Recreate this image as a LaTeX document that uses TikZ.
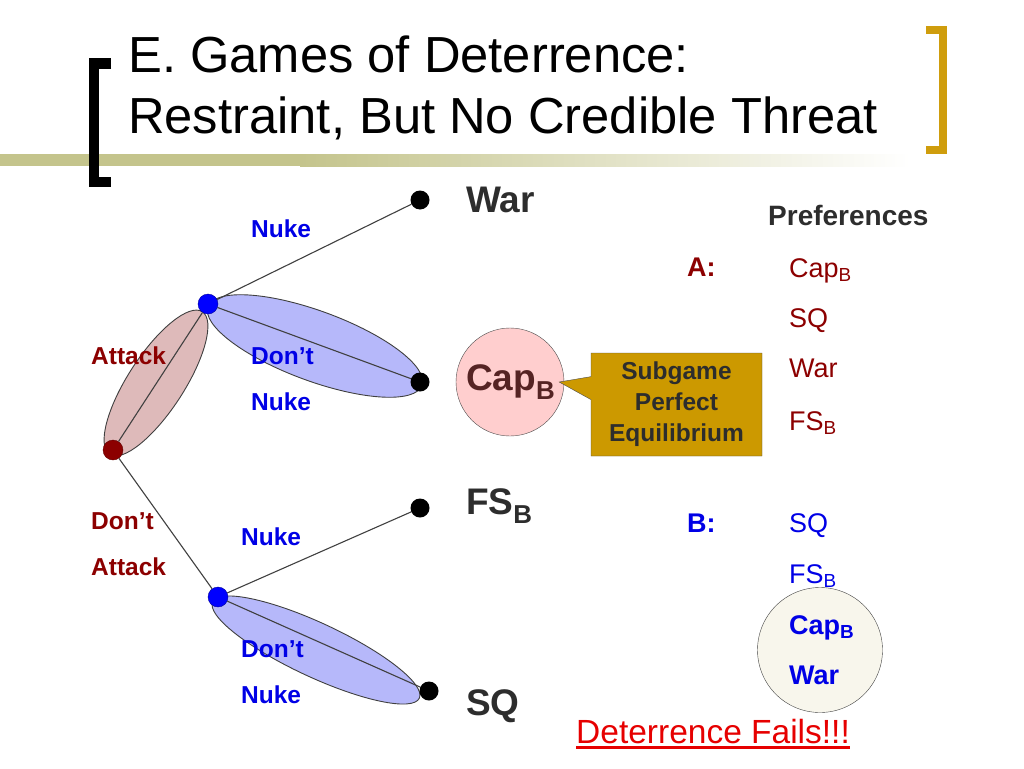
\documentclass[tikz,border=0pt]{standalone}
\usepackage{fontspec}
\setmainfont{Liberation Sans}
\usepackage{xcolor}
\usepackage{tikz}
\usetikzlibrary{shapes.callouts}

\definecolor{barolive}{RGB}{196,196,140}
\definecolor{bracketgold}{RGB}{207,157,13}
\definecolor{attackred}{RGB}{140,0,0}
\definecolor{nukeblue}{RGB}{0,0,230}
\definecolor{outcomegray}{RGB}{45,45,45}
\definecolor{capbrown}{RGB}{85,35,35}
\definecolor{attackpink}{RGB}{222,186,186}
\definecolor{nukelilac}{RGB}{182,184,250}
\definecolor{cappink}{RGB}{255,206,206}
\definecolor{spegold}{RGB}{204,153,0}
\definecolor{failcream}{RGB}{248,246,236}
\definecolor{failred}{RGB}{230,0,0}

\newcommand{\sizedfont}[2]{\fontsize{#1}{#2}\selectfont}
\newcommand{\subB}{\textsubscript{B}}
\newlength{\failwidth}
\newcommand{\failline}[1]{%
    \settowidth{\failwidth}{#1}%
    \rlap{\rule[-5.5pt]{\failwidth}{2.5pt}}#1}

\begin{document}
\begin{tikzpicture}[x=1pt,y=-1pt,
        titletext/.style={anchor=base west,inner sep=0,font=\sizedfont{50.7}{61}},
        treeline/.style={draw=black!75,line width=1.1pt},
        infoset/.style={draw=black!75,line width=0.9pt},
        enddot/.style={circle,fill=black,inner sep=0,minimum size=19pt},
        bluedot/.style={circle,fill=blue,draw=blue!60!black,inner sep=0,minimum size=20pt},
        rootdot/.style={circle,fill=attackred,draw=attackred!70!black,inner sep=0,minimum size=20pt},
        movetext/.style={anchor=base west,inner sep=0,font=\sizedfont{24.5}{30}\bfseries},
        outcome/.style={anchor=base west,inner sep=0,text=outcomegray,font=\sizedfont{37}{44}\bfseries},
        preftext/.style={anchor=base west,inner sep=0,font=\sizedfont{27}{32}}]
        \useasboundingbox (0,0) rectangle (1024,768);

        % title bar and brackets
        \fill[barolive] (0,154) rectangle (300,166);
        \shade[left color=barolive,right color=white] (300,154) rectangle (910,166);
        \draw[line width=10pt] (111,63.5) -- (94,63.5) -- (94,182) -- (111,182);
        \draw[bracketgold,line width=8pt] (926,30) -- (942.5,30) -- (942.5,150) -- (926,150);
        \node[titletext] (title1) at (128,72) {E. Games of Deterrence:};
        \node[titletext] (title2) at (128,133) {Restraint, But No Credible Threat};

        % information sets
        \draw[infoset,fill=attackpink,rotate around={57:(156,383)}] (156,383) ellipse [x radius=85,y radius=28];
        \draw[infoset,fill=nukelilac,rotate around={-20.2:(315,346)}] (315,346) ellipse [x radius=114,y radius=35];
        \draw[infoset,fill=nukelilac,rotate around={-25:(316,650)}] (316,650) ellipse [x radius=114,y radius=27];

        % decision nodes and end points
        \node[rootdot] (a) at (113,450) {};
        \node[bluedot] (b1) at (208,304) {};
        \node[bluedot] (b2) at (218,597) {};
        \node[enddot] (war) at (420,200) {};
        \node[enddot] (cap) at (420,382) {};
        \node[enddot] (fs) at (420,508) {};
        \node[enddot] (sq) at (429,691) {};

        % branches
        \draw[treeline] (a) -- (b1);
        \draw[treeline] (a) -- (b2);
        \draw[treeline] (b1) -- (war);
        \draw[treeline] (b1) -- (cap);
        \draw[treeline] (b2) -- (fs);
        \draw[treeline] (b2) -- (sq);

        % moves
        \node[movetext,text=attackred] (attack) at (91,364) {Attack};
        \node[movetext,text=attackred] (dontatt1) at (91,529) {Don’t};
        \node[movetext,text=attackred] (dontatt2) at (91,575) {Attack};
        \node[movetext,text=nukeblue] (nuke1) at (251,237) {Nuke};
        \node[movetext,text=nukeblue] (dontnuke1a) at (251,364) {Don’t};
        \node[movetext,text=nukeblue] (dontnuke1b) at (251,410) {Nuke};
        \node[movetext,text=nukeblue] (nuke2) at (241,545) {Nuke};
        \node[movetext,text=nukeblue] (dontnuke2a) at (241,657) {Don’t};
        \node[movetext,text=nukeblue] (dontnuke2b) at (241,703) {Nuke};

        % outcomes
        \node[circle,draw=black!70,fill=cappink,minimum size=108pt,inner sep=0] (capc) at (510,382) {};
        \node[outcome] (warl) at (466,212) {War};
        \node[outcome,text=capbrown] (capl) at (466,390) {Cap\subB};
        \node[outcome] (fsl) at (466,514) {FS\subB};
        \node[outcome] (sql) at (466,715) {SQ};

        % equilibrium callout
        \node[rectangle callout,draw=black!70,fill=spegold,text=outcomegray,
            font=\sizedfont{24.5}{31}\bfseries,align=center,
            minimum width=171pt,minimum height=103pt,inner sep=0,
            callout pointer width=23pt,
            callout absolute pointer={([xshift=-5pt]capc.east)}] (spe) at (676.5,404.5) {Subgame\\Perfect\\Equilibrium};

        % preferences
        \node[preftext,text=outcomegray,font=\sizedfont{28}{32}\bfseries] (pref) at (768,225) {Preferences};
        \node[preftext,text=attackred,font=\sizedfont{27}{32}\bfseries] (pa) at (687,276) {A:};
        \node[preftext,text=attackred] (pa1) at (789,277) {Cap\subB};
        \node[preftext,text=attackred] (pa2) at (789,327) {SQ};
        \node[preftext,text=attackred] (pa3) at (789,377) {War};
        \node[preftext,text=attackred] (pa4) at (789,430) {FS\subB};

        \node[circle,draw=black!75,fill=failcream,minimum size=125pt,inner sep=0] (failset) at (820,650) {};
        \node[preftext,text=nukeblue,font=\sizedfont{27}{32}\bfseries] (pb) at (687,532) {B:};
        \node[preftext,text=nukeblue] (pb1) at (789,532) {SQ};
        \node[preftext,text=nukeblue] (pb2) at (789,583) {FS\subB};
        \node[preftext,text=nukeblue,font=\sizedfont{27}{32}\bfseries] (pb3) at (789,634) {Cap\subB};
        \node[preftext,text=nukeblue,font=\sizedfont{27}{32}\bfseries] (pb4) at (789,684) {War};

        % verdict
        \node[anchor=base west,inner sep=0,text=failred,font=\sizedfont{33.5}{40}] (fails) at (576,743) {\failline{Deterrence Fails!!!}};
    \end{tikzpicture}
\end{document}
